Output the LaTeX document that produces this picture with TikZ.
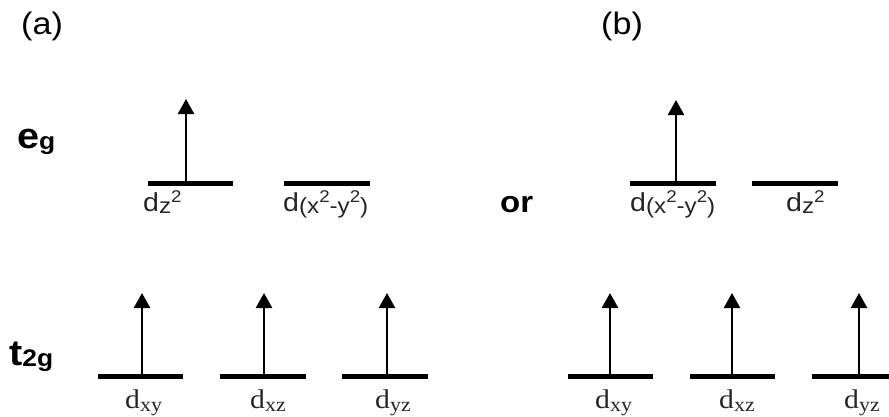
\documentclass[tikz,border=0pt]{standalone}
\usepackage{fontspec}
\usetikzlibrary{arrows.meta}
\newfontfamily\wsans[FakeStretch=1.1]{Liberation Sans}
\newfontfamily\wserif[FakeStretch=1.1]{Liberation Serif}
\newcommand{\subo}[1]{\raisebox{-2pt}{\fontsize{22}{22}\selectfont #1}}
\newcommand{\supo}[1]{\raisebox{9pt}{\fontsize{17}{17}\selectfont #1}}
\newcommand{\subt}[1]{\raisebox{-3pt}{\fontsize{20}{20}\selectfont #1}}
\newcommand{\subb}[1]{\raisebox{-1pt}{\fontsize{24}{24}\selectfont #1}}

\begin{document}
\begin{tikzpicture}[x=1pt,y=-1pt,
  level/.style={line width=5pt},
  spin/.style={line width=2.5pt,-{Triangle[width=16pt,length=15pt]}},
  tag/.style={anchor=base west,inner sep=0pt,font=\wsans\fontsize{31}{31}\selectfont},
  term/.style={anchor=base west,inner sep=0pt,font=\wsans\bfseries\fontsize{36}{36}\selectfont},
  orb/.style={anchor=base west,inner sep=0pt,font=\wsans\fontsize{26}{26}\selectfont,text=black!85},
  orbt/.style={anchor=base west,inner sep=0pt,font=\wserif\fontsize{27}{27}\selectfont,text=black!85}]
\useasboundingbox (0,0) rectangle (889,416);

\foreach \nm/\xa/\xb/\y in {Az/148/233/183, Ax/284/370/183, Bx/630/716/183, Bz/752/838/183,
  Axy/98/183/376, Axz/220/306/376, Ayz/342/428/376, Bxy/568/653/376, Bxz/690/775/376, Byz/812/889/376}
  \draw[level] (\xa,\y) coordinate (\nm-w) -- (\xb,\y) coordinate (\nm-e);

\foreach \nm/\xs/\yt in {Az/186/99, Bx/676/100, Axy/142/293, Axz/264/293, Ayz/387/293,
  Bxy/610/293, Bxz/732/293, Byz/859/293}{
  \coordinate (\nm-up) at (\xs,\yt);
  \draw[spin] (\nm-up |- \nm-w) -- (\nm-up);
}

\node[tag] (pa) at (21,34) {(a)};
\node[tag] (pb) at (601,34) {(b)};
\node[term] (eg) at (17,148) {e\subb{g}};
\node[term] (t2g) at (9,365) {t\subb{2g}};
\node[term,font=\wsans\bfseries\fontsize{30}{30}\selectfont] (or) at (500,212) {or};

\node[orb] (lAz) at (143,211) {d\subo{z}\supo{2}};
\node[orb] (lAx) at (283,211) {d\subo{(x}\supo{2}\subo{-y}\supo{2}\subo{)}};
\node[orb] (lBx) at (630,211) {d\subo{(x}\supo{2}\subo{-y}\supo{2}\subo{)}};
\node[orb] (lBz) at (786,211) {d\subo{z}\supo{2}};

\node[orbt] (lAxy) at (125,408) {d\subt{xy}};
\node[orbt] (lAxz) at (250,408) {d\subt{xz}};
\node[orbt] (lAyz) at (375,408) {d\subt{yz}};
\node[orbt] (lBxy) at (595,408) {d\subt{xy}};
\node[orbt] (lBxz) at (719,408) {d\subt{xz}};
\node[orbt] (lByz) at (844,408) {d\subt{yz}};
\end{tikzpicture}
\end{document}
